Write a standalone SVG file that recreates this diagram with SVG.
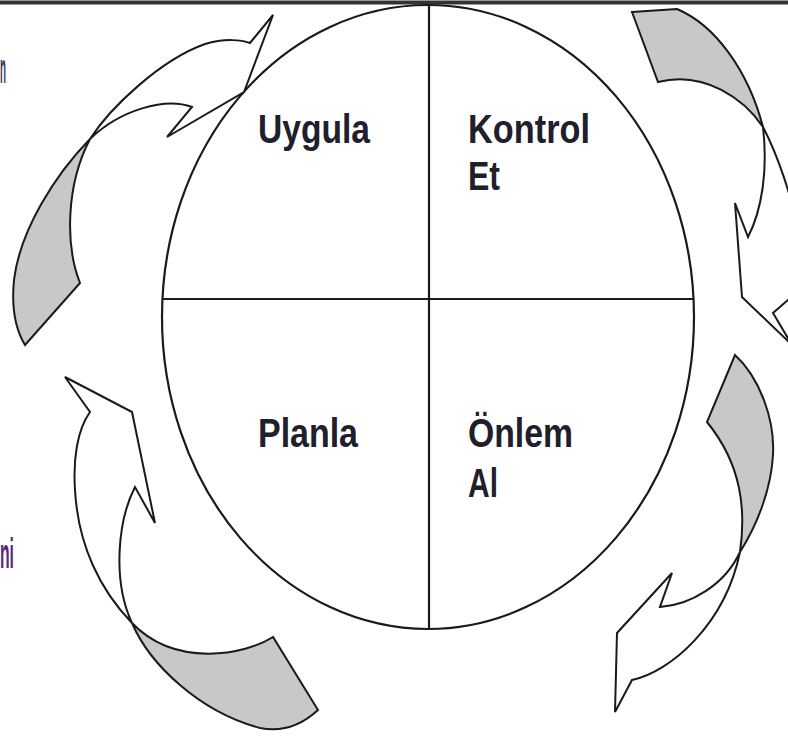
<svg xmlns="http://www.w3.org/2000/svg" width="788" height="736" viewBox="0 0 788 736">
<style>
.ln{fill:none;stroke:#1a1a1a;stroke-width:2.2}
.aw{fill:#ffffff;stroke:#1a1a1a;stroke-width:2;stroke-linejoin:miter}
.ag{fill:#c8c8c8;stroke:#1a1a1a;stroke-width:2;stroke-linejoin:miter}
.lb{font-family:"Liberation Sans",Arial,sans-serif;font-weight:bold;font-size:41px;fill:#20202c}
.side{font-family:"Liberation Sans",Arial,sans-serif;font-weight:bold;font-size:42px}
</style>
<rect width="788" height="736" fill="#ffffff"/>
<line x1="0" y1="2.5" x2="788" y2="2.5" stroke="#333" stroke-width="4"/>
<text class="side" x="0" y="83" textLength="6" lengthAdjust="spacingAndGlyphs" fill="#3a3a66">n</text>
<text class="side" x="0" y="568" textLength="14" lengthAdjust="spacingAndGlyphs" fill="#5a2a78">ni</text>
<g id="cycle">
<ellipse class="ln" cx="428" cy="317" rx="266" ry="312"/>
<line class="ln" x1="429" y1="5" x2="429" y2="629"/>
<line class="ln" x1="162" y1="299" x2="694" y2="299"/>
</g>
<g id="q-uygula"><text class="lb" x="258" y="143" textLength="112" lengthAdjust="spacingAndGlyphs">Uygula</text></g>
<g id="q-kontrol"><text class="lb" x="468" y="143" textLength="122" lengthAdjust="spacingAndGlyphs">Kontrol</text><text class="lb" x="468" y="190" textLength="32" lengthAdjust="spacingAndGlyphs">Et</text></g>
<g id="q-planla"><text class="lb" x="258" y="447" textLength="100" lengthAdjust="spacingAndGlyphs">Planla</text></g>
<g id="q-onlem"><text class="lb" x="468" y="447" textLength="105" lengthAdjust="spacingAndGlyphs">Önlem</text><text class="lb" x="468" y="497" textLength="30" lengthAdjust="spacingAndGlyphs">Al</text></g>
<g id="connectors">
<g id="arrow-top-left">
<path class="ag" d="M90,139 C55,175 20,230 14,280 C11,310 16,330 25,345 L80,283 C65,245 66,185 90,139 Z"/>
<path class="aw" d="M90,139 C110,108 160,60 205,44 C225,38 242,40 250,43 L273,15 L244,92 L167,137 L192,107 C165,97 120,110 90,139 Z"/>
</g>
<g id="arrow-bottom-left">
<path class="aw" d="M132,623 C100,590 78,545 75,490 C73,460 77,430 90,412 L65,377 L132,412 L155,523 L135,487 C118,520 112,580 132,623 Z"/>
<path class="ag" d="M132,623 C150,665 200,712 260,728 C285,733 305,722 318,710 L273,637 C245,655 175,668 132,623 Z"/>
</g>
<g id="arrow-top-right">
<path class="ag" d="M632,12 L677,9 C715,25 748,70 763,127 C745,100 705,70 658,82 Z"/>
<path class="aw" d="M763,127 C775,150 795,200 798,240 C800,270 795,290 788,300 L773,313 L792,345 L742,297 L735,203 L748,237 C762,210 768,170 763,127 Z"/>
</g>
<g id="arrow-bottom-right">
<path class="ag" d="M735,355 C760,378 775,420 773,455 C771,490 757,525 740,552 C746,510 742,465 707,422 Z"/>
<path class="aw" d="M740,552 C725,585 690,605 660,607 L672,573 L617,633 L615,712 L632,680 C670,672 725,625 740,552 Z"/>
</g>
</g>
</svg>
